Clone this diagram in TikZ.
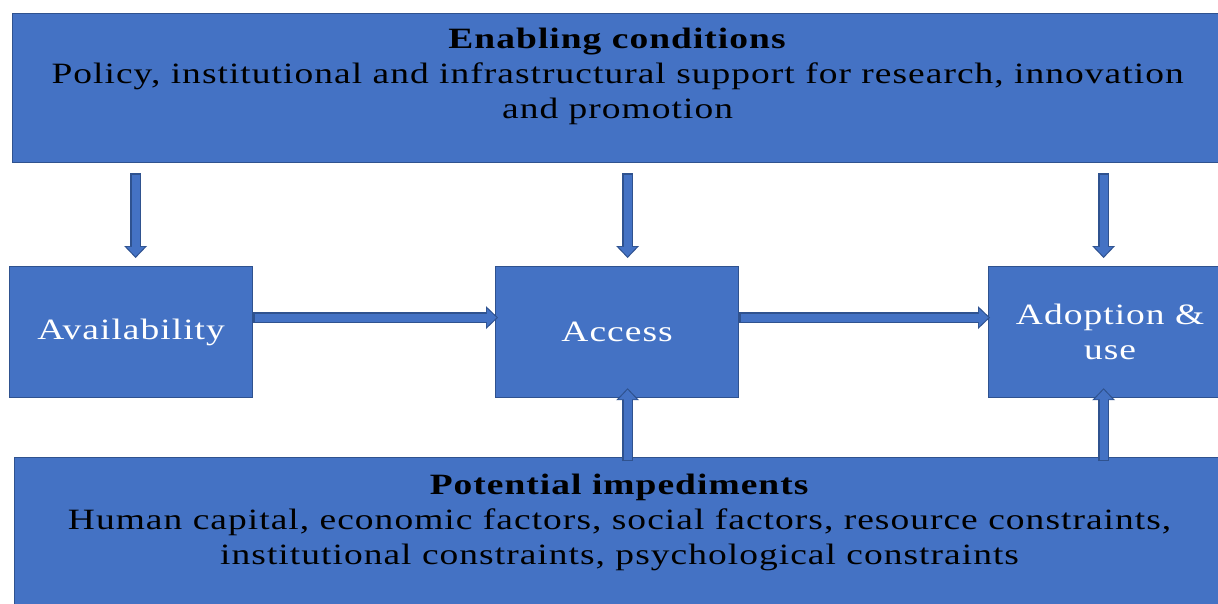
\documentclass[tikz,border=0pt]{standalone}
\usepackage{fontspec}
\setmainfont{Liberation Serif}[FakeStretch=1.27, LetterSpace=3.5]
\usetikzlibrary{arrows.meta, positioning, calc}
\definecolor{boxfill}{HTML}{4472C4}
\definecolor{boxedge}{HTML}{2F528F}
\tikzset{
  panel/.style = {rectangle, draw=boxedge, line width=1.2pt, fill=boxfill,
                  anchor=north west},
  stage/.style = {rectangle, draw=boxedge, line width=1.2pt, fill=boxfill,
                  minimum width=243pt, minimum height=131pt, text=white,
                  align=center, font=\fontsize{29.5}{35}\selectfont},
  paneltext/.style = {align=center, inner sep=0pt,
                      font=\fontsize{29.5}{35}\selectfont},
  flow/.style = {draw=boxedge, line width=11pt,
                 -{Triangle[length=12pt, width=23pt, line width=0pt]},
                 postaction={draw=boxfill, line width=8pt,
                   shorten >=1.6pt, shorten <=1.5pt,
                   -{Triangle[length=9.5pt, width=18pt, line width=0pt]}}},
}

\begin{document}
\begin{tikzpicture}[x=1pt, y=-1pt]
  \useasboundingbox (0,0) rectangle (1218,603);
  \clip (0,0) rectangle (1218,603);

  % top and bottom bands
  \node[panel, minimum width=1210pt, minimum height=149pt] (enable) at (12,13) {};
  \node[paneltext, below=15pt of enable.north] (enabletext)
    {\textbf{Enabling conditions}\\
     Policy, institutional and infrastructural support for research, innovation\\
     and promotion};
  \node[panel, minimum width=1210pt, minimum height=160pt] (impede) at (14,457) {};
  \node[paneltext, below=17pt of impede.north] (impedetext)
    {\textbf{Potential impediments}\\
     Human capital, economic factors, social factors, resource constraints,\\
     institutional constraints, psychological constraints};

  % the three stages
  \node[stage, anchor=north west] (avail) at (9,266) {Availability};
  \node[stage, right=241.8pt of avail] (access) {Access};
  \node[stage, right=248.8pt of access] (adopt) {Adoption \&\\use};

  % conditions feeding down
  \draw[flow] ($(enable.south -| avail.north)+(4.5,10)$) -- ($(avail.north)+(4.5,-8)$);
  \draw[flow] ($(enable.south -| access.north)+(10.5,10)$) -- ($(access.north)+(10.5,-8)$);
  \draw[flow] ($(enable.south -| adopt.north)+(-6.5,10)$) -- ($(adopt.north)+(-6.5,-8)$);

  % stage to stage
  \draw[flow] ($(avail.east)+(0,-14.5)$) -- ($(access.west)+(3,-14.5)$);
  \draw[flow] ($(access.east)+(0,-14.5)$) -- ($(adopt.west)+(2,-14.5)$);

  % impediments pushing up
  \draw[flow] ($(impede.north -| access.south)+(10.5,4)$) -- ($(access.south)+(10.5,-10)$);
  \draw[flow] ($(impede.north -| adopt.south)+(-6.5,4)$) -- ($(adopt.south)+(-6.5,-10)$);
\end{tikzpicture}
\end{document}
